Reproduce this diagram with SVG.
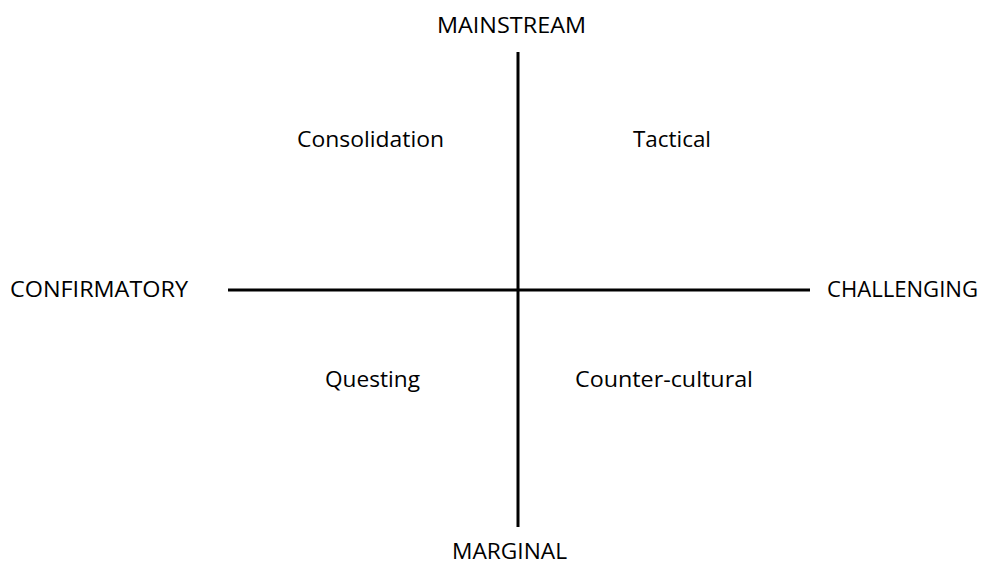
<svg xmlns="http://www.w3.org/2000/svg" width="982" height="565" viewBox="0 0 982 565">
<style>
text{font-family:"Open Sans","Liberation Sans",sans-serif;font-size:21px;fill:#000;}
.ax{stroke:#000;stroke-width:3;fill:none;}
</style>
<rect width="982" height="565" fill="#fff"/>
<g id="connectors">
<line class="ax" x1="228" y1="290" x2="810" y2="290"/>
<line class="ax" x1="518" y1="52" x2="518" y2="527"/>
</g>
<g id="mainstream"><text x="437" y="33" textLength="149" lengthAdjust="spacingAndGlyphs">MAINSTREAM</text></g>
<g id="marginal"><text x="452" y="559" font-size="20" textLength="115" lengthAdjust="spacingAndGlyphs">MARGINAL</text></g>
<g id="confirmatory"><text x="10" y="297" textLength="178" lengthAdjust="spacingAndGlyphs">CONFIRMATORY</text></g>
<g id="challenging"><text x="827" y="297" textLength="151" lengthAdjust="spacingAndGlyphs">CHALLENGING</text></g>
<g id="consolidation"><text x="297" y="147" textLength="147" lengthAdjust="spacingAndGlyphs">Consolidation</text></g>
<g id="tactical"><text x="633" y="147" textLength="78" lengthAdjust="spacingAndGlyphs">Tactical</text></g>
<g id="questing"><text x="325" y="387" textLength="95" lengthAdjust="spacingAndGlyphs">Questing</text></g>
<g id="counter-cultural"><text x="575" y="387" textLength="178" lengthAdjust="spacingAndGlyphs">Counter-cultural</text></g>
</svg>
